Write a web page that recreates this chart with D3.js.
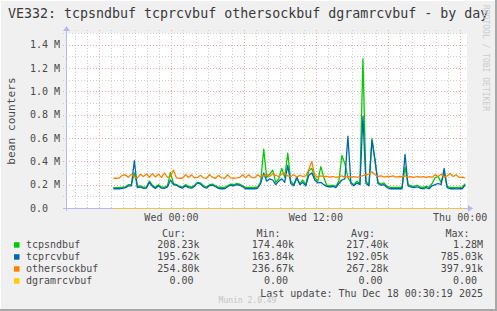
<!DOCTYPE html>
<html><head><meta charset="utf-8">
<script src="https://cdn.jsdelivr.net/npm/d3@7"></script>
<style>
body{margin:0;background:#f0f0f0}
svg{display:block}
text{font-family:"DejaVu Sans Mono",monospace}
</style>
</head><body>
<svg id="chart" width="497" height="311"></svg>
<script>
// ---------------- data ----------------
const title = "VE332: tcpsndbuf tcprcvbuf othersockbuf dgramrcvbuf - by day";
const yAxisLabel = "bean counters";
const seriesNames = ["tcpsndbuf", "tcprcvbuf", "othersockbuf", "dgramrcvbuf"];
const seriesColors = ["#00cc00", "#0066b3", "#ff8000", "#ffcc00"];
const startTime = new Date(2025, 11, 16, 19, 10); // first sample
const stepMinutes = 15;                          // sample spacing
// values in k (thousands)
const tcpsndbuf = [
  175,175,175,178,180,200,200,300,185,190,
  178,180,230,195,178,200,180,178,190,306,
  210,200,185,180,200,185,180,195,220,215,
  190,180,200,205,190,178,176,176,190,205,
  200,210,205,190,176,176,176,176,180,225,
  505,260,290,325,220,250,340,260,470,230,
  200,250,210,240,200,320,340,260,230,355,
  260,195,190,195,185,230,450,380,260,220,
  200,230,210,1280,230,200,595,400,220,205,
  215,185,176,176,176,176,176,350,200,190,
  185,195,180,176,185,176,210,260,270,220,
  300,185,175,176,174,176,176,208
];
const tcprcvbuf = [
  165,165,165,168,175,190,190,405,175,180,
  168,170,220,185,168,190,170,168,180,240,
  200,195,178,170,190,175,170,185,215,205,
  180,170,192,195,182,168,165,165,182,195,
  190,200,195,182,165,165,165,165,170,210,
  300,230,250,240,200,230,250,220,365,210,
  190,270,200,220,190,280,300,240,215,220,
  200,185,180,185,175,210,240,250,615,210,
  190,215,200,785,210,190,580,420,210,195,
  200,175,165,165,165,165,165,460,190,180,
  175,182,170,165,175,165,190,200,210,200,
  340,175,165,165,164,165,165,196
];
const othersockbuf = [
  255,255,258,280,285,262,290,265,258,290,
  270,292,262,295,265,290,262,300,262,270,
  325,258,255,255,285,262,285,258,262,280,
  258,255,285,262,255,280,258,255,285,258,
  255,258,262,285,258,285,262,258,285,265,
  280,290,270,295,280,270,290,300,275,270,
  285,265,280,270,275,330,398,280,265,275,
  268,272,265,270,262,268,275,262,270,265,
  268,262,270,278,285,290,310,285,270,275,
  265,272,268,275,265,270,268,275,265,268,
  262,270,265,268,262,268,262,285,270,290,
  265,275,295,270,285,262,265,255
];
const dgramrcvbuf = [
  0,0,0,0,0,0,0,0,0,0,
  0,0,0,0,0,0,0,0,0,0,
  0,0,0,0,0,0,0,0,0,0,
  0,0,0,0,0,0,0,0,0,0,
  0,0,0,0,0,0,0,0,0,0,
  0,0,0,0,0,0,0,0,0,0,
  0,0,0,0,0,0,0,0,0,0,
  0,0,0,0,0,0,0,0,0,0,
  0,0,0,0,0,0,0,0,0,0,
  0,0,0,0,0,0,0,0,0,0,
  0,0,0,0,0,0,0,0,0,0,
  0,0,0,0,0,0,0,0
];
const yTickValues = [0, 200, 400, 600, 800, 1000, 1200, 1400];
const yTickLabels = ["0.0", "0.2 M", "0.4 M", "0.6 M", "0.8 M", "1.0 M", "1.2 M", "1.4 M"];
const xTickTimes = [new Date(2025, 11, 17, 0, 0), new Date(2025, 11, 17, 12, 0), new Date(2025, 11, 18, 0, 0)];
const xTickLabels = ["Wed 00:00", "Wed 12:00", "Thu 00:00"];
const legendHeaders = ["Cur:", "Min:", "Avg:", "Max:"];
const curValues = ["208.23k", "195.62k", "254.80k", "0.00 "];
const minValues = ["174.40k", "163.84k", "236.67k", "0.00 "];
const avgValues = ["217.40k", "192.05k", "267.28k", "0.00 "];
const maxValues = ["1.28M", "785.03k", "397.91k", "0.00 "];
const lastUpdate = "Last update: Thu Dec 18 00:30:19 2025";
const watermark = "RRDTOOL / TOBI OETIKER";
const footer = "Munin 2.0.49";

// ---------------- layout ----------------
const svg = d3.select("#chart");
const W = 497, H = 311;
const plot = {left: 66, right: 467, top: 33, bottom: 208};

svg.append("rect").attr("width", W).attr("height", H).attr("fill", "#f0f0f0");
// frame
svg.append("rect").attr("x", 0).attr("y", 309).attr("width", W).attr("height", 2).attr("fill", "#a8a8a8");
svg.append("rect").attr("x", 495).attr("y", 0).attr("width", 2).attr("height", H).attr("fill", "#a8a8a8");
svg.append("rect").attr("x", 0).attr("y", 0).attr("width", W - 2).attr("height", 1).attr("fill", "#ffffff");
svg.append("rect").attr("x", 0).attr("y", 0).attr("width", 1).attr("height", H - 2).attr("fill", "#ffffff");

svg.append("rect").attr("x", plot.left).attr("y", plot.top)
  .attr("width", plot.right - plot.left).attr("height", plot.bottom - plot.top).attr("fill", "#ffffff");

const x = d3.scaleTime()
  .domain([new Date(2025, 11, 16, 15, 14), new Date(2025, 11, 18, 0, 34)])
  .range([plot.left, plot.right]);
const y = d3.scaleLinear().domain([0, 1500]).range([plot.bottom, plot.top]);

// vertical grid
const hours = d3.timeHour.every(1).range(x.domain()[0], x.domain()[1]);
const gV = svg.append("g");
hours.forEach(h => {
  const major = h.getHours() % 6 === 0;
  const xp = Math.round(x(h)) + 0.5;
  gV.append("line").attr("x1", xp).attr("x2", xp).attr("y1", plot.top - 3).attr("y2", plot.bottom)
    .attr("stroke", major ? "#f0a8a8" : "#cfcfcf").attr("stroke-width", 1)
    .attr("stroke-dasharray", "1,2");
});
// horizontal grid
const gH = svg.append("g");
d3.range(100, 1501, 100).forEach(v => {
  const major = v % 200 === 0;
  const yp = Math.round(y(v)) + 0.5;
  gH.append("line").attr("x1", plot.left - 3).attr("x2", plot.right).attr("y1", yp).attr("y2", yp)
    .attr("stroke", major ? "#f0a8a8" : "#cfcfcf").attr("stroke-width", 1)
    .attr("stroke-dasharray", "1,2");
});

// axes lines + arrows
const axisColor = "#b8b8f0";
svg.append("line").attr("x1", plot.left - 3).attr("x2", plot.right + 1)
  .attr("y1", plot.bottom + 0.5).attr("y2", plot.bottom + 0.5).attr("stroke", axisColor);
svg.append("line").attr("x1", plot.left + 0.5).attr("x2", plot.left + 0.5)
  .attr("y1", plot.bottom + 3).attr("y2", plot.top - 3).attr("stroke", axisColor);
svg.append("path").attr("d", `M${plot.right + 1},${plot.bottom - 3} L${plot.right + 6},${plot.bottom + 0.5} L${plot.right + 1},${plot.bottom + 4} Z`).attr("fill", axisColor);
svg.append("path").attr("d", `M${plot.left - 3},${plot.top - 2} L${plot.left + 0.5},${plot.top - 7} L${plot.left + 4},${plot.top - 2} Z`).attr("fill", axisColor);

// series
const seriesData = [tcpsndbuf, tcprcvbuf, othersockbuf, dgramrcvbuf];
const timeAt = i => d3.timeMinute.offset(startTime, i * stepMinutes);
const line = d3.line().x((d, i) => x(timeAt(i))).y(d => y(d));
svg.append("defs").append("clipPath").attr("id", "clip").append("rect")
  .attr("x", plot.left).attr("y", plot.top - 5).attr("width", plot.right - plot.left + 1).attr("height", plot.bottom - plot.top + 6);
const gS = svg.append("g").attr("clip-path", "url(#clip)");
seriesData.forEach((s, k) => {
  const isZero = k === 3;
  gS.append("path").datum(s).attr("d", line).attr("fill", "none")
    .attr("transform", isZero ? "translate(0,0.5)" : null)
    .attr("stroke", seriesColors[k]).attr("stroke-width", isZero ? 1 : 1.3)
    .attr("stroke-opacity", isZero ? 0.75 : 1).attr("stroke-linejoin", "round");
});

// y tick labels
const txt = "#4a4a4a";
yTickValues.forEach((v, i) => {
  svg.append("text").attr("x", 30).attr("y", y(v) + 3.8).attr("font-size", 10).attr("fill", txt)
    .text(yTickLabels[i]);
});
// x tick labels
xTickTimes.forEach((t, i) => {
  svg.append("text").attr("x", x(t)).attr("y", 220.7).attr("font-size", 10).attr("fill", txt)
    .attr("text-anchor", "middle").text(xTickLabels[i]);
});

// title
svg.append("text").attr("x", 8).attr("y", 18.2).attr("font-size", 13.3).attr("fill", "#3a3a3a").text(title);
// y label
svg.append("text").attr("transform", "translate(15.3,121) rotate(-90)").attr("text-anchor", "middle")
  .attr("font-size", 11.2).attr("fill", txt).text(yAxisLabel);
// watermark
svg.append("text").attr("transform", "translate(482.5,5) rotate(90)").attr("font-size", 8)
  .attr("fill", "#cccccc").text(watermark);

// legend
const colEnds = [199.5, 294, 388.5, 483];
const cols = [curValues, minValues, avgValues, maxValues];
legendHeaders.forEach((h, j) => {
  svg.append("text").attr("x", colEnds[j] - 13.5).attr("y", 237).attr("font-size", 10).attr("fill", txt)
    .attr("text-anchor", "end").text(h);
});
seriesNames.forEach((n, k) => {
  const by = 248 + k * 12;
  svg.append("rect").attr("x", 14).attr("y", by - 5.8).attr("width", 5.5).attr("height", 5.5).attr("fill", seriesColors[k]);
  svg.append("text").attr("x", 26).attr("y", by).attr("font-size", 10).attr("fill", txt).text(n);
  cols.forEach((c, j) => {
    svg.append("text").attr("x", colEnds[j]).attr("y", by).attr("font-size", 10).attr("fill", txt)
      .attr("text-anchor", "end").style("white-space", "pre").text(c[k]);
  });
});
svg.append("text").attr("x", 483).attr("y", 296.7).attr("font-size", 10).attr("fill", txt)
  .attr("text-anchor", "end").text(lastUpdate);
svg.append("text").attr("x", 247.5).attr("y", 302.7).attr("font-size", 8).attr("fill", "#c4c4c4")
  .attr("text-anchor", "middle").text(footer);
</script>
</body></html>
